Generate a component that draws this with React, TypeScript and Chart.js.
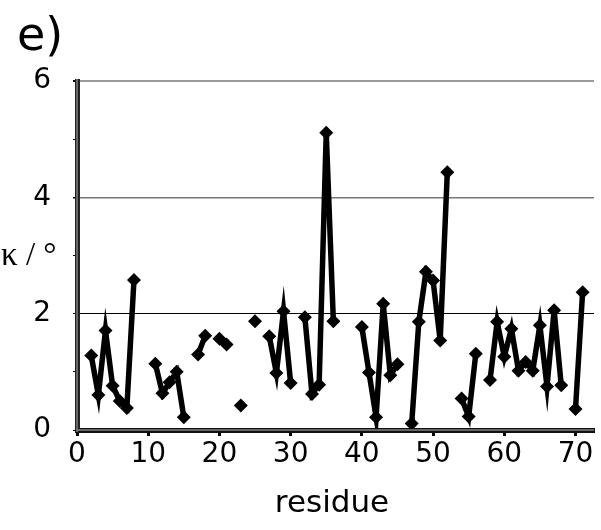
import React, { useEffect, useRef } from "react";
import { Chart, registerables } from "chart.js";

Chart.register(...registerables);

const residues: number[] = [
  2, 3, 4, 5, 6, 7, 8, 9, 10, 11, 12, 13, 14, 15, 16, 17, 18, 19, 20, 21, 22, 23, 24, 25, 26, 27, 28, 29, 30,
  31, 32, 33, 34, 35, 36, 37, 38, 39, 40, 41, 42, 43, 44, 45, 46, 47, 48, 49, 50, 51, 52, 53, 54, 55, 56, 57,
  58, 59, 60, 61, 62, 63, 64, 65, 66, 67, 68, 69, 70, 71,
];

const kappa: (number | null)[] = [
  1.28, 0.6, 1.71, 0.76, 0.5, 0.38, 2.58, null, null, 1.14, 0.63, 0.82, 1.0, 0.22, null, 1.3, 1.62, null, 1.57,
  1.47, null, 0.42, null, 1.87, null, 1.61, 0.98, 2.04, 0.81, null, 1.94, 0.62, 0.78, 5.11, 1.87, null, null, null,
  1.77, 0.99, 0.22, 2.17, 0.94, 1.13, null, 0.11, 1.86, 2.72, 2.57, 1.54, 4.43, null, 0.54, 0.23, 1.31, null, 0.86,
  1.86, 1.26, 1.74, 1.02, 1.17, 1.02, 1.8, 0.75, 2.06, 0.77, null, 0.36, 2.37,
];

const xTicks: number[] = [0, 10, 20, 30, 40, 50, 60, 70];
const yTicks: number[] = [0, 1, 2, 3, 4, 5, 6];
const yLabelled: number[] = [0, 2, 4, 6];

const panelLabel = "e)";
const yTitle = "κ / °";
const xTitle = "residue";

const textPlugin = {
  id: "extraText",
  afterDraw(chart: any) {
    const ctx = chart.ctx;
    const area = chart.chartArea;
    ctx.save();
    ctx.strokeStyle = "#808080";
    ctx.lineWidth = 1.5;
    ctx.beginPath();
    ctx.moveTo(area.left, area.top - 2);
    ctx.lineTo(area.left, area.bottom + 2);
    ctx.moveTo(area.left, area.bottom);
    ctx.lineTo(area.right, area.bottom);
    ctx.stroke();

    ctx.fillStyle = "#000";
    ctx.textAlign = "left";
    ctx.textBaseline = "alphabetic";
    ctx.font = "46px 'DejaVu Sans'";
    ctx.fillText(panelLabel, 17, 50);

    ctx.font = "33px 'Liberation Serif'";
    ctx.textBaseline = "middle";
    ctx.fillText(yTitle, 1, 256);

    ctx.font = "31px 'DejaVu Sans'";
    ctx.textAlign = "center";
    ctx.textBaseline = "alphabetic";
    ctx.fillText(xTitle, 332, 512);
    ctx.restore();
  },
};

export default function App() {
  const canvasRef = useRef<HTMLCanvasElement | null>(null);

  useEffect(() => {
    document.body.style.margin = "0";
    const canvas = canvasRef.current;
    if (!canvas) return;
    const points = residues.map((r, i) => ({ x: r, y: kappa[i] }));

    const chart = new Chart(canvas, {
      type: "line",
      data: {
        datasets: [
          {
            data: points as any,
            borderColor: "#000",
            backgroundColor: "#000",
            borderWidth: 5.5,
            pointStyle: "rectRot",
            pointRadius: 7,
            pointBorderWidth: 0,
            pointBackgroundColor: "#000",
            tension: 0,
            spanGaps: false,
          },
        ],
      },
      options: {
        animation: false,
        responsive: false,
        maintainAspectRatio: false,
        layout: { padding: { top: 81, right: 0, left: 0, bottom: 0 } },
        plugins: { legend: { display: false }, tooltip: { enabled: false }, title: { display: false } },
        scales: {
          x: {
            type: "linear",
            min: 0,
            max: 72.6,
            afterBuildTicks: (axis: any) => {
              axis.ticks = xTicks.map((v) => ({ value: v }));
            },
            afterFit: (axis: any) => {
              axis.height = 100;
            },
            border: { display: true, color: "#111", width: 5 },
            grid: {
              drawOnChartArea: false,
              drawTicks: true,
              tickLength: 6,
              tickWidth: 3,
              tickColor: "#000",
            },
            ticks: {
              color: "#000",
              font: { family: "'DejaVu Sans'", size: 28 },
              padding: 2,
              maxRotation: 0,
              autoSkip: false,
            },
          },
          y: {
            type: "linear",
            min: 0,
            max: 6,
            afterBuildTicks: (axis: any) => {
              axis.ticks = yTicks.map((v) => ({ value: v }));
            },
            afterFit: (axis: any) => {
              axis.width = 77;
            },
            border: { display: true, color: "#222", width: 5 },
            grid: {
              drawOnChartArea: true,
              drawTicks: true,
              tickLength: 4,
              tickColor: "#000",
              color: (c: any) => {
                const v = c.tick ? c.tick.value : 0;
                if (v === 6) return "#9a9a9a";
                if (v === 4) return "#777";
                if (v === 2) return "#000";
                return "rgba(0,0,0,0)";
              },
              lineWidth: (c: any) => {
                const v = c.tick ? c.tick.value : 0;
                if (v === 6) return 2;
                if (v === 4) return 1.5;
                return 1;
              },
            },
            ticks: {
              color: "#000",
              font: { family: "'DejaVu Sans'", size: 28 },
              padding: 22,
              autoSkip: false,
              callback: (v: any) => (yLabelled.includes(Number(v)) ? String(v) : ""),
            },
          },
        },
      },
      plugins: [textPlugin],
    });
    return () => chart.destroy();
  }, []);

  return (
    <div style={{ width: 601, height: 530 }}>
      <canvas ref={canvasRef} width={601} height={530} style={{ display: "block" }} />
    </div>
  );
}
